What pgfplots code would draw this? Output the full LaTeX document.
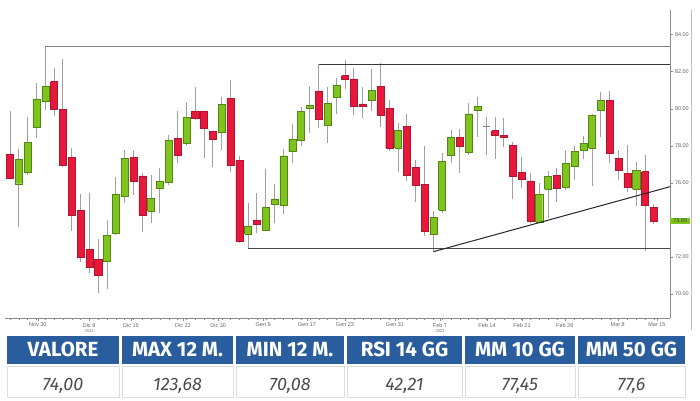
\documentclass[border=0pt]{standalone}
\usepackage{pgfplots}
\pgfplotsset{compat=1.18}
\usepackage{pgfplotstable}
\usepackage{fontspec}
\setmainfont{Liberation Sans}
\newfontfamily\fira{Fira Sans}
\definecolor{candred}{RGB}{232,24,60}
\definecolor{candredd}{RGB}{175,22,48}
\definecolor{candgreen}{RGB}{126,196,28}
\definecolor{candgreend}{RGB}{84,134,22}
\definecolor{wickgray}{RGB}{160,160,160}
\definecolor{hdrblue}{RGB}{42,93,158}
\definecolor{cellborder}{RGB}{222,222,222}

\pgfplotstableread{
x o h l c
1 77.53 79.87 76.20 76.27
2 75.95 77.81 73.63 77.27
3 76.55 79.57 76.42 78.17
4 78.98 81.38 78.41 80.53
5 80.38 83.37 79.93 81.23
6 81.46 82.22 79.61 79.97
7 79.97 82.69 76.87 76.96
8 77.36 77.87 73.40 74.26
9 74.53 75.38 71.74 71.98
10 72.41 75.47 71.12 71.44
11 71.87 72.95 70.07 71.01
12 71.74 74.00 70.25 73.17
13 73.28 76.33 73.20 75.40
14 75.25 77.77 74.90 77.30
15 77.38 77.77 75.35 76.10
16 76.37 76.55 73.36 74.26
17 74.48 76.42 73.82 75.17
18 75.71 76.79 74.36 76.06
19 76.01 78.58 75.88 78.28
20 78.41 79.88 77.06 77.49
21 78.14 80.35 77.99 79.54
22 79.88 81.16 79.39 79.49
23 79.88 79.90 77.33 78.92
24 78.76 78.80 76.84 78.37
25 78.73 80.65 77.77 80.24
26 80.54 81.55 76.60 76.93
27 77.23 77.45 72.75 72.82
28 73.24 74.90 72.47 73.67
29 73.98 75.47 73.28 73.76
30 73.45 76.75 73.40 74.66
31 74.86 75.92 73.85 75.13
32 74.77 77.81 74.32 77.45
33 77.68 79.16 77.09 78.35
34 78.28 80.11 77.99 79.84
35 80.04 81.23 78.71 80.19
36 80.96 82.40 78.98 79.45
37 79.12 81.19 78.14 80.30
38 80.60 81.65 79.72 81.28
39 81.79 82.63 81.05 81.61
40 81.61 82.19 79.66 80.11
41 80.26 81.19 79.49 80.15
42 80.44 82.13 79.90 81.01
43 81.19 82.46 79.03 79.66
44 80.03 80.47 77.72 77.87
45 77.87 79.25 76.60 78.85
46 79.03 79.72 76.12 76.42
47 76.82 77.23 74.98 75.88
48 75.92 77.99 73.13 73.36
49 73.22 74.50 72.28 74.12
50 74.53 77.60 74.39 77.14
51 77.47 78.85 77.09 78.46
52 78.44 78.89 76.55 77.99
53 77.65 80.30 77.50 79.72
54 79.93 80.62 78.46 80.11
55 79.07 79.57 77.50 79.07
56 78.82 79.54 77.29 78.55
57 78.55 79.52 77.92 78.46
58 78.04 78.22 75.11 76.37
59 76.55 77.41 75.74 76.19
60 76.10 76.55 73.82 73.94
61 73.87 75.98 73.82 75.40
62 75.65 76.64 74.12 76.33
63 76.39 76.79 74.98 75.71
64 75.74 77.77 75.61 77.06
65 76.87 77.99 76.15 77.68
66 77.74 78.53 77.27 78.14
67 77.87 79.72 75.85 79.65
68 79.90 80.89 78.46 80.44
69 80.47 80.96 77.09 77.60
70 77.33 77.77 76.15 76.66
71 76.52 78.04 75.52 75.74
72 75.65 77.14 74.75 76.66
73 76.60 77.50 72.34 74.80
74 74.68 74.86 73.78 73.94
}\candles

\begin{document}
\begin{tikzpicture}[x=1pt,y=1pt]
\path[use as bounding box] (0,0) rectangle (700,400);
\begin{axis}[
  at={(5pt,82pt)}, anchor=south west,
  scale only axis, width=665pt, height=308pt,
  xmin=0.43, xmax=75.83, ymin=68.7, ymax=85.33,
  clip=false,
  axis x line*=bottom, axis y line*=right,
  axis line style={black!45, line width=0.5pt},
  tick align=outside,
  major tick length=2.5pt, minor tick length=1.5pt,
  tick style={black!45, line width=0.4pt},
  ytick={70,72,76,78,80,82,84},
  /pgf/number format/assume math mode=true,
  yticklabel={\pgfmathprintnumber[fixed,fixed zerofill,precision=2]{\tick}},
  yticklabel style={font=\fontsize{5.5}{6}\selectfont, text=black!60, xshift=-1pt},
  xtick={4.14,9.96,14.7,20.6,24.6,29.7,34.67,38.98,44.65,49.75,55.08,59.05,63.9,69.9,74.35},
  xticklabels={Nov 30,{Dic 8\\[-1pt]{\fontsize{4}{4}\selectfont 2022}},Dic 15,Dic 23,Dic 30,Gen 9,Gen 17,Gen 23,Gen 31,{Feb 7\\[-1pt]{\fontsize{4}{4}\selectfont 2023}},Feb 14,Feb 21,Feb 28,Mar 8,Mar 15},
  xticklabel style={align=center, font=\fontsize{5.5}{6}\selectfont, text=black!60, yshift=1pt},
  minor xtick={1,...,74},
]
\pgfplotstablegetrowsof{\candles}
\pgfmathtruncatemacro{\lastrow}{\pgfplotsretval-1}
\pgfplotsforeachungrouped \ci in {0,...,\lastrow}{%
  \pgfplotstablegetelem{\ci}{x}\of\candles \let\X\pgfplotsretval
  \pgfplotstablegetelem{\ci}{o}\of\candles \let\O\pgfplotsretval
  \pgfplotstablegetelem{\ci}{h}\of\candles \let\H\pgfplotsretval
  \pgfplotstablegetelem{\ci}{l}\of\candles \let\L\pgfplotsretval
  \pgfplotstablegetelem{\ci}{c}\of\candles \let\C\pgfplotsretval
  \pgfmathsetmacro{\xa}{\X-0.4}%
  \pgfmathsetmacro{\xb}{\X+0.4}%
  \ifdim\C pt<\O pt
    \def\fc{candred}\def\dc{candredd}%
  \else
    \ifdim\C pt=\O pt
      \def\fc{black!45}\def\dc{black!45}%
    \else
      \def\fc{candgreen}\def\dc{candgreend}%
    \fi
  \fi
  \edef\doplot{%
    \noexpand\addplot[draw=wickgray, line width=1pt, forget plot] coordinates {(\X,\L) (\X,\H)};
    \noexpand\addplot[fill=\fc, draw=\dc, line width=0.45pt, line join=miter, forget plot] coordinates {(\xa,\O) (\xb,\O) (\xb,\C) (\xa,\C) (\xa,\O)};
  }%
  \doplot
}
% support / resistance lines
\addplot[black!50, line width=1.3pt] coordinates {(5,83.37) (75.83,83.37)};
\addplot[black!78, line width=1pt] coordinates {(36,82.40) (75.83,82.40)};
\addplot[black!72, line width=1pt] coordinates {(28,72.47) (75.83,72.47)};
\addplot[black!85, line width=1pt] coordinates {(49,72.28) (75.83,75.79)};
\node[fill=candgreen, inner sep=1.2pt, anchor=west, font=\fontsize{5.5}{6}\selectfont, text=black!75, minimum width=20pt] at (axis cs:75.83,73.95) {73.95};
\end{axis}
\draw[black!25, line width=0.5pt] (691,70) -- (691,390);
% table
\foreach \xl/\xr/\hd/\vl in {7/119/VALORE/{74,00},122/233/MAX 12 M./{123,68},236/344/MIN 12 M./{70,08},347/462/RSI 14 GG/{42,21},465/575/MM 10 GG/{77,45},578/685/MM 50 GG/{77,6}}{
  \fill[hdrblue] (\xl,36) rectangle (\xr,64);
  \draw[cellborder, fill=white, line width=0.6pt] (\xl,3) rectangle (\xr,34);
  \node[anchor=base, text=white, inner sep=0pt, font=\fira\bfseries\fontsize{20.5}{20.5}\selectfont] at ({(\xl+\xr)/2},43.3) {\hd};
  \node[anchor=base, text=black!70, inner sep=0pt, font=\fira\itshape\fontsize{18}{18}\selectfont] at ({(\xl+\xr)/2},10) {\vl};
}
\end{tikzpicture}
\end{document}
